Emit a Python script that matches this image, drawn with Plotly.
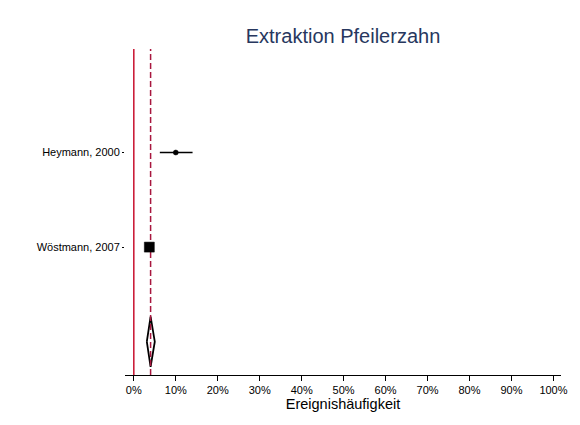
import plotly.graph_objects as go

# Study-level event rates (%) with 95% CI
studies = ["Heymann, 2000", "Wöstmann, 2007"]
study_pos = [3, 2]
estimate = [10.0, 3.7]
ci_low = [6.2, 3.2]
ci_high = [14.0, 4.2]
marker_sizes = [5, 10]
marker_symbols = ["circle", "square"]

# Pooled estimate (%) with 95% CI
pooled_pos = 1
pooled_est = 4.0
pooled_low = 3.1
pooled_high = 5.0
pooled_halfheight = 0.265

null_value = 0.0
x_ticks = list(range(0, 101, 10))
y_range = [0.648, 4.094]
x_range = [-2.1, 101.8]

font_family = "Liberation Sans, Arial, Helvetica, sans-serif"

fig = go.Figure()

# Reference line at 0 %
fig.add_trace(go.Scatter(
    x=[null_value, null_value], y=y_range, mode="lines",
    line=dict(color="#c8102e", width=1.5), hoverinfo="skip", showlegend=False))

# Pooled diamond (outline)
fig.add_trace(go.Scatter(
    x=[pooled_low, pooled_est, pooled_high, pooled_est, pooled_low],
    y=[pooled_pos, pooled_pos + pooled_halfheight, pooled_pos,
       pooled_pos - pooled_halfheight, pooled_pos],
    mode="lines", line=dict(color="black", width=1.8),
    hoverinfo="skip", showlegend=False))

# Pooled estimate line
fig.add_trace(go.Scatter(
    x=[pooled_est, pooled_est], y=y_range, mode="lines",
    line=dict(color="#a8173f", width=1.5, dash="6px,3px"),
    hoverinfo="skip", showlegend=False))

# Confidence intervals
for lo, hi, yp in zip(ci_low, ci_high, study_pos):
    fig.add_trace(go.Scatter(
        x=[lo, hi], y=[yp, yp], mode="lines",
        line=dict(color="black", width=1.5),
        hoverinfo="skip", showlegend=False))

# Point estimates
fig.add_trace(go.Scatter(
    x=estimate, y=study_pos, mode="markers",
    marker=dict(color="black", size=marker_sizes, symbol=marker_symbols,
                opacity=1, line=dict(width=0.5, color="black")),
    showlegend=False))

fig.update_layout(
    width=580, height=425,
    margin=dict(l=125, r=12, t=49, b=50),
    paper_bgcolor="white", plot_bgcolor="white",
    font=dict(family=font_family, color="black"),
    title=dict(text="Extraktion Pfeilerzahn", x=0.5, xref="paper",
               y=1 - 36 / 425, yref="container", yanchor="middle",
               font=dict(size=20, color="#27375e", family=font_family)),
)

fig.update_xaxes(
    range=x_range, tickvals=x_ticks, ticktext=[f"{v}%" for v in x_ticks],
    showgrid=False, zeroline=False, showline=True, linecolor="black",
    linewidth=1, ticks="outside", ticklen=5, tickcolor="black", tickwidth=1,
    tickfont=dict(size=11, color="black"),
    title=dict(text="Ereignishäufigkeit", standoff=0,
               font=dict(size=14.5, color="black")),
)

fig.update_yaxes(
    range=y_range, tickvals=study_pos, ticktext=studies,
    showgrid=False, zeroline=False, showline=False,
    ticks="outside", ticklen=2, tickcolor="black", tickwidth=1,
    tickfont=dict(size=11, color="black"),
)

fig.write_html("out.html")
